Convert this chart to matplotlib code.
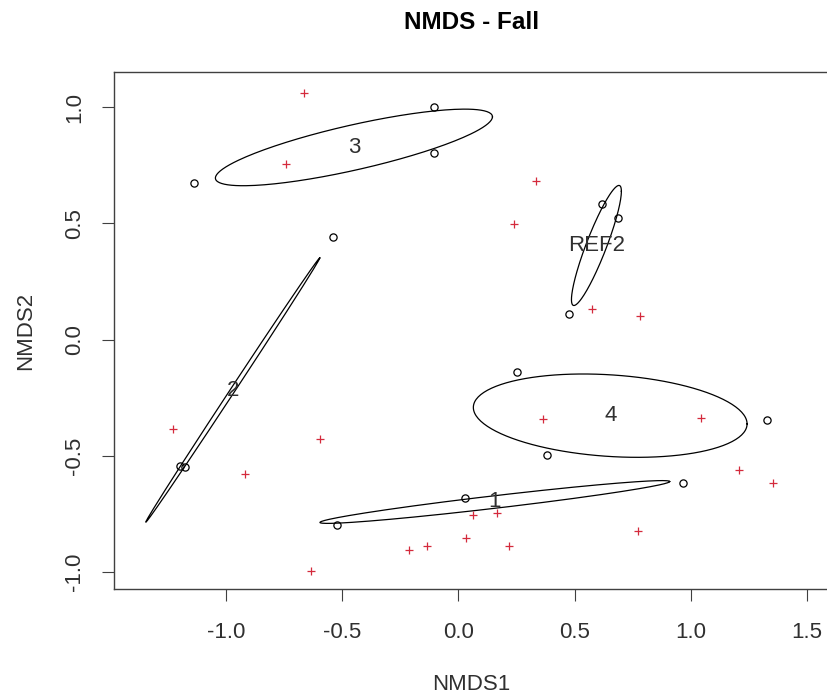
import numpy as np
import matplotlib
matplotlib.use("Agg")
import matplotlib.pyplot as plt

plt.rcParams['font.family'] = ['Liberation Sans', 'DejaVu Sans']

# species scores (red +)
species_x = [-0.662, -0.741, 0.334, 0.240, 0.576, 0.781, -1.226, -0.595, -0.917, -0.634,
             -0.211, -0.136, 0.032, 0.062, 0.165, 0.219, 0.366, 1.043, 1.209, 1.355, 0.774]
species_y = [1.062, 0.754, 0.683, 0.496, 0.133, 0.102, -0.385, -0.428, -0.579, -0.996,
             -0.905, -0.887, -0.852, -0.754, -0.744, -0.887, -0.342, -0.338, -0.560, -0.615, -0.821]

# site scores (open circles) and their groups
site_x = [-0.523, 0.029, 0.965,
          -1.197, -1.175, -0.538,
          -1.137, -0.105, -0.105,
          0.251, 0.380, 1.329,
          0.617, 0.688, 0.477]
site_y = [-0.797, -0.682, -0.615,
          -0.543, -0.546, 0.440,
          0.675, 1.002, 0.804,
          -0.139, -0.496, -0.345,
          0.582, 0.525, 0.109]
site_group = ['1', '1', '1',
              '2', '2', '2',
              '3', '3', '3',
              '4', '4', '4',
              'REF2', 'REF2', 'REF2']
group_names = ['1', '2', '3', '4', 'REF2']

x_ticks = [-1.0, -0.5, 0.0, 0.5, 1.0, 1.5]
y_ticks = [-1.0, -0.5, 0.0, 0.5, 1.0]

W, H = 827, 698
fig = plt.figure(figsize=(W / 100, H / 100), dpi=100)
ax = fig.add_axes([114 / W, (H - 589.3) / H, (829 - 114) / W, (589.3 - 71.7) / H])

ax.plot(site_x, site_y, 'o', mfc='none', mec='black', ms=5.2, mew=0.9, zorder=3)
ax.plot(species_x, species_y, '+', color='#d42a3c', ms=5.5, mew=0.9, zorder=3)

# standard deviation ellipses per group (like vegan::ordiellipse, kind="sd")
sx = np.array(site_x)
sy = np.array(site_y)
grp = np.array(site_group)
t = np.linspace(0, 2 * np.pi, 200)
for g in group_names:
    m = grp == g
    pts = np.column_stack([sx[m], sy[m]])
    cen = pts.mean(axis=0)
    cov = np.cov(pts, rowvar=False)
    L = np.linalg.cholesky(cov)
    ell = cen[:, None] + L @ np.vstack([np.cos(t), np.sin(t)])
    ax.plot(ell[0], ell[1], color='black', lw=0.9, zorder=2)
    ax.text(cen[0], cen[1], g, fontsize=16, color='#303030', ha='center', va='center', zorder=4)

ax.set_xlim(-1.481, (829 - 458.3) / 232.5)
ax.set_ylim(-1.0735, 1.1527)
ax.set_xticks(x_ticks)
ax.set_yticks(y_ticks)
ax.set_xticklabels([f'{v:.1f}' for v in x_ticks])
ax.set_yticklabels([f'{v:.1f}' for v in y_ticks], rotation=90, va='center')
ax.tick_params(direction='out', length=8.6, width=0.8, color='#404040', labelsize=16, labelcolor='#303030')
ax.tick_params(axis='x', pad=15)
ax.tick_params(axis='y', pad=12)
for s in ax.spines.values():
    s.set_color('#404040')
    s.set_linewidth(1.0)

ax.set_xlabel('NMDS1', fontsize=16, color='#303030', va='center')
ax.xaxis.set_label_coords(0.5, -(684 - 589.3) / (589.3 - 71.7))
ax.set_ylabel('NMDS2', fontsize=16, color='#303030', va='center', ha='center')
ax.yaxis.set_label_coords(-(114 - 26) / (829 - 114), 0.5)

ax.set_title('NMDS - Fall', fontsize=17.5, fontweight='bold', pad=31)

fig.savefig('out.png', dpi=100)
